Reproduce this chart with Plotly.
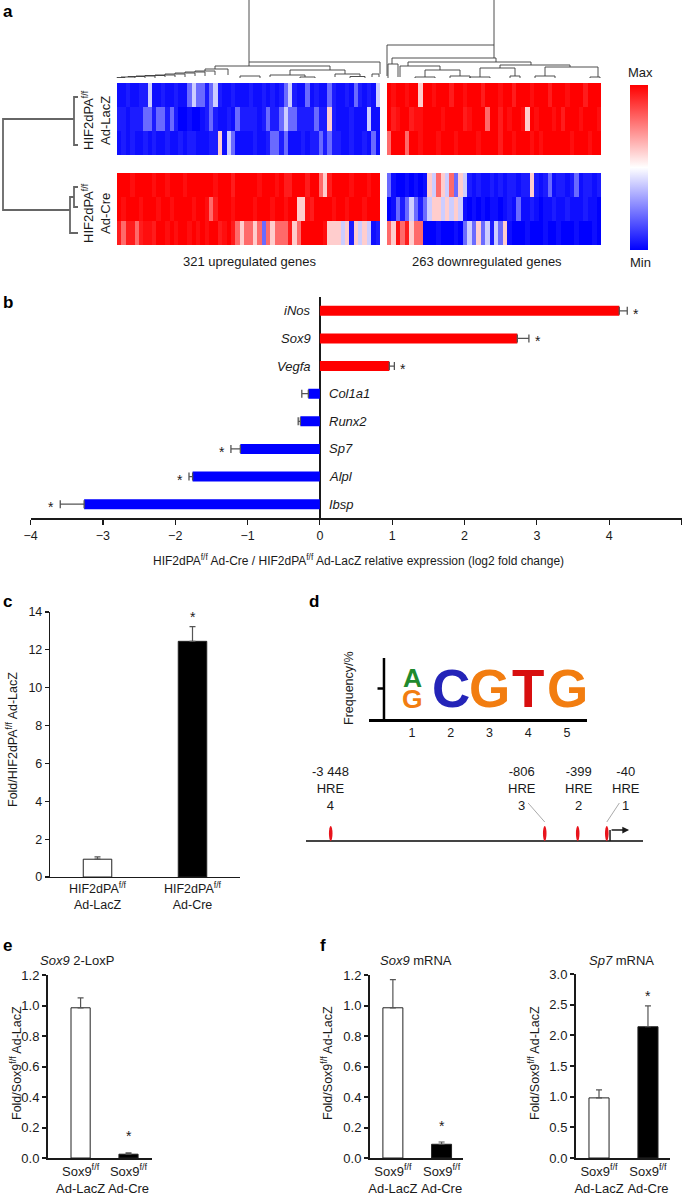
import plotly.graph_objects as go

W, H = 685, 1194
FONT = "Liberation Sans, Arial, Helvetica, sans-serif"
INK = "#1a1a1a"


def X(px):
    return px / W


def Y(py):
    return 1 - py / H


# ---------------- panel a : heatmap values (digit 0 = Min / blue ... 9 = Max / red)
up_genes_lacz = [
    "1121122411 2112113433 2342112111 2112121234 2113121132 1121321214",
    "2212223323 3232001001 2321121322 2212322343 3222232252 1112111411",
    "1212112121 1211212211 1225143111 1211233231 1121223232 2112112131",
]
up_genes_cre = [
    "9998999989 9899989999 9989997999 9989998977 9997996579 9998999899",
    "9899989998 9989999899 8679998999 9899989989 9558799998 9989998999",
    "7677678879 9898998989 8997897656 6563656667 5699999855 5452545412",
]
down_genes_lacz = [
    "9899899599 8999799899 9799989979 9989997999 89997999",
    "9789978899 9989999789 9969979899 8598999897 99989998",
    "6999699899 9899989999 8999979989 9989899999 98999899",
]
down_genes_cre = [
    "3100101015 4654635421 2112121221 2252123122 12312212",
    "0132343234 5545454101 0101101213 1121011211 21112110",
    "6586756600 0100010343 5342435100 0100010010 00100010",
]
heat_labels = ["321 upregulated genes", "263 downregulated genes"]

# column dendrogram links (left child x, y, right child x, y, merge y)  [sketch units]
col_links = [
    (249, 62, 494, 45, -60),
    (249, 66, 380, 74, 62), (215, 69, 330, 70, 66),
    (117, 78, 125, 78, 77.5), (121, 77.5, 135, 78, 77), (128, 77, 145, 78, 76.5),
    (136, 76.5, 155, 78, 76), (145, 76, 165, 77, 75.5), (155, 75.5, 175, 77, 75),
    (165, 75, 185, 77, 74), (175, 74, 195, 76, 73), (185, 73, 205, 76, 72),
    (195, 72, 215, 75, 71), (205, 71, 228, 75, 69),
    (290, 75, 345, 74, 70), (270, 77, 305, 77, 75), (335, 77, 360, 76, 74),
    (372, 77, 379, 77, 74), (240, 78, 260, 78, 76), (300, 78, 315, 78, 77),
    (350, 78, 365, 78, 76.5),
    (387, 76, 494, 58, 45), (392, 64, 496, 62, 58), (388, 78, 398, 77, 64),
    (408, 66, 531, 65, 62), (400, 77, 440, 70, 66), (425, 77, 460, 76, 70),
    (500, 68, 570, 67, 65), (480, 77, 515, 76, 68), (545, 76, 598, 77, 67),
    (535, 78, 555, 78, 76), (590, 78, 600, 78, 77), (470, 78, 490, 78, 77),
    (510, 78, 520, 78, 76), (415, 78, 435, 78, 77), (450, 78, 470, 78, 76),
]
# row dendrogram links (upper child y, x, lower child y, x, merge x)
row_links = [
    (97, 78, 145, 78, 74),
    (187, 78, 207, 78, 74),
    (197, 74, 233, 78, 70),
    (119, 74, 210, 70, 3),
]
row_groups = ["HIF2dPA<sup>f/f</sup><br>Ad-LacZ", "HIF2dPA<sup>f/f</sup><br>Ad-Cre"]

# ---------------- panel b
genes_b = ["iNos", "Sox9", "Vegfa", "Col1a1", "Runx2", "Sp7", "Alpl", "Ibsp"]
log2fc_b = [4.14, 2.73, 0.96, -0.16, -0.27, -1.10, -1.76, -3.26]
sem_b = [0.11, 0.16, 0.07, 0.09, 0.03, 0.13, 0.05, 0.33]
sig_b = [True, True, True, False, False, True, True, True]
xticks_b = [-4, -3, -2, -1, 0, 1, 2, 3, 4, 5]
xtitle_b = ("HIF2dPA<sup>f/f</sup> Ad-Cre / HIF2dPA<sup>f/f</sup> Ad-LacZ "
            "relative expression (log2 fold change)")

# ---------------- panel c
groups_c = ["HIF2dPA<sup>f/f</sup><br>Ad-LacZ", "HIF2dPA<sup>f/f</sup><br>Ad-Cre"]
fold_c = [0.94, 12.45]
sem_c = [0.12, 0.78]
sig_c = [False, True]

# ---------------- panel d
logo_pos = [1, 1, 2, 3, 4, 5]
logo_letter = ["G", "A", "C", "G", "T", "G"]
logo_freq = [0.5, 0.5, 1.0, 1.0, 1.0, 1.0]
letter_color = {"A": "#1f8a2e", "C": "#2424b8", "G": "#f27d10", "T": "#d80f0f"}
hre_pos = [-3448, -806, -399, -40]
hre_text = ["-3 448", "-806", "-399", "-40"]
hre_num = [4, 3, 2, 1]
hre_label_offset = [0, -285, 10, 235]

# ---------------- panels e, f
groups_sox = ["Sox9<sup>f/f</sup><br>Ad-LacZ", "Sox9<sup>f/f</sup><br>Ad-Cre"]
loxp_e = [0.985, 0.025]
sem_e = [0.065, 0.008]
sox9_f = [0.985, 0.09]
sem_f1 = [0.185, 0.015]
sp7_f = [0.98, 2.14]
sem_f2 = [0.13, 0.34]
sig_ef = [False, True]

fig = go.Figure()
ann = []
shapes = []


def note(**kw):
    kw.setdefault("showarrow", False)
    kw.setdefault("xanchor", "center")
    kw.setdefault("yanchor", "middle")
    ann.append(kw)


def parse(rows):
    rows = [[int(c) for c in r.replace(" ", "")] for r in rows]
    n = min(len(r) for r in rows)
    return [r[:n] for r in rows]


HEAT_CS = [[0, "#0000ff"], [0.25, "#2020ff"], [0.5, "#ffffff"], [0.75, "#ff2020"], [1, "#ff0000"]]
LIN_CS = [[0, "#0000ff"], [0.5, "#ffffff"], [1, "#ff0000"]]

blocks = [
    (up_genes_lacz, "x6", "y6"), (up_genes_cre, "x6", "y7"),
    (down_genes_lacz, "x7", "y6"), (down_genes_cre, "x7", "y7"),
]
ncols = {}
for rows, xa, ya in blocks:
    z = parse(rows)
    ncols[xa] = len(z[0])
    fig.add_trace(go.Heatmap(z=z, xaxis=xa, yaxis=ya, colorscale=HEAT_CS, zmin=0, zmax=9,
                             showscale=False, hoverinfo="skip"))

# colour bar (linear min-max gradient)
fig.add_trace(go.Scatter(
    x=[-50, -50], y=[-50, -50], xaxis="x8", yaxis="y8", mode="markers",
    marker=dict(color=[0, 9], colorscale=LIN_CS, cmin=0, cmax=9, showscale=True,
                colorbar=dict(thickness=18, thicknessmode="pixels", len=165, lenmode="pixels",
                              x=X(630), xanchor="left", y=Y(167.5), yanchor="middle",
                              showticklabels=False, ticks="", outlinewidth=0, xpad=0, ypad=0)),
    hoverinfo="skip", showlegend=False))

# dendrograms
dx, dy = [], []
for xa, ya, xb, yb, ym in col_links:
    dx += [xa, xa, xb, xb, None]
    dy += [ya, ym, ym, yb, None]
fig.add_trace(go.Scatter(x=dx, y=dy, xaxis="x8", yaxis="y8", mode="lines",
                         line=dict(color="#3a3a3a", width=0.9), hoverinfo="skip", showlegend=False))
rx, ry = [], []
for ya, xa, yb, xb, xm in row_links:
    rx += [xa, xm, xm, xb, None]
    ry += [ya, ya, yb, yb, None]
fig.add_trace(go.Scatter(x=rx, y=ry, xaxis="x8", yaxis="y8", mode="lines",
                         line=dict(color="#666666", width=1.8), hoverinfo="skip", showlegend=False))

for txt, cy in zip(row_groups, [120, 213]):
    note(x=X(97), y=Y(cy), xref="paper", yref="paper", text=txt, textangle=-90,
         font=dict(size=13, color=INK))
for txt, cx in zip(heat_labels, [250, 487]):
    note(x=X(cx), y=Y(261), xref="paper", yref="paper", text=txt, font=dict(size=13, color=INK))
note(x=X(640), y=Y(73), xref="paper", yref="paper", text="Max", font=dict(size=13, color=INK))
note(x=X(640), y=Y(262), xref="paper", yref="paper", text="Min", font=dict(size=13, color=INK))

# ---------------- panel b traces
sign_b = [1 if v > 0 else -1 for v in log2fc_b]
fig.add_trace(go.Bar(
    x=log2fc_b, y=genes_b, orientation="h", width=0.36, xaxis="x", yaxis="y",
    marker=dict(color=["#ff0000" if s > 0 else "#0000ff" for s in sign_b], line=dict(width=0)),
    error_x=dict(type="data", symmetric=False,
                 array=[e if s > 0 else 0 for e, s in zip(sem_b, sign_b)],
                 arrayminus=[e if s < 0 else 0 for e, s in zip(sem_b, sign_b)],
                 color="#555555", thickness=1.3, width=4),
    hoverinfo="skip", showlegend=False))
for g, v, e, s, sg in zip(genes_b, log2fc_b, sem_b, sign_b, sig_b):
    note(x=0, y=g, xref="x", yref="y", text="<i>%s</i>" % g,
         xanchor="right" if s > 0 else "left", xshift=-7 * s, font=dict(size=13, color=INK))
    if sg:
        note(x=v + s * e, y=g, xref="x", yref="y", text="*", xshift=9 * s, yshift=-3,
             font=dict(size=14, color=INK))
note(x=X(358), y=Y(560), xref="paper", yref="paper", text=xtitle_b, font=dict(size=12, color=INK))


# ---------------- bar panels c, e, f
def bar_panel(n, vals, sems, sigs, width, star_px):
    xa, ya = "x%d" % n, "y%d" % n
    fig.add_trace(go.Bar(
        x=[0, 1], y=vals, width=width, xaxis=xa, yaxis=ya,
        marker=dict(color=["white", "black"], line=dict(color="#222222", width=1)),
        error_y=dict(type="data", symmetric=False, array=sems, arrayminus=[0] * len(sems),
                     color="#555555", thickness=1.2, width=3),
        hoverinfo="skip", showlegend=False))
    for i, (v, e, sg) in enumerate(zip(vals, sems, sigs)):
        if sg:
            note(x=i, y=v + e, xref=xa, yref=ya, text="*", yshift=star_px,
                 font=dict(size=14, color=INK))


bar_panel(2, fold_c, sem_c, sig_c, 0.3, 10)
bar_panel(3, loxp_e, sem_e, sig_ef, 0.4, 17)
bar_panel(4, sox9_f, sem_f1, sig_ef, 0.41, 16)
bar_panel(5, sp7_f, sem_f2, sig_ef, 0.41, 10)

ytitles = [
    ("Fold/HIF2dPA<sup>f/f</sup> Ad-LacZ", 12, 740),
    ("Fold/Sox9<sup>f/f</sup> Ad-LacZ", 16, 1063),
    ("Fold/Sox9<sup>f/f</sup> Ad-LacZ", 327, 1063),
    ("Fold/Sox9<sup>f/f</sup> Ad-LacZ", 534, 1063),
]
for txt, cx, cy in ytitles:
    note(x=X(cx), y=Y(cy), xref="paper", yref="paper", text=txt, textangle=-90,
         font=dict(size=12.5, color=INK))
ptitles = [("<i>Sox9</i> 2-LoxP", 77), ("<i>Sox9</i> mRNA", 416), ("<i>Sp7</i> mRNA", 621)]
for txt, cx in ptitles:
    note(x=X(cx), y=Y(960), xref="paper", yref="paper", text=txt, font=dict(size=13, color=INK))

# ---------------- panel d : logo
stack = {}
for p, L, f in zip(logo_pos, logo_letter, logo_freq):
    base = stack.get(p, 0.0)
    note(x=p, y=base + f / 2, xref="x12", yref="y12", text="<b>%s</b>" % L,
         font=dict(size=53 * f, color=letter_color[L], family=FONT))
    stack[p] = base + f
shapes.append(dict(type="line", xref="x12", yref="y12", x0=0.277, x1=0.277, y0=-0.463, y1=1.244,
                   line=dict(color="black", width=2.5)))
shapes.append(dict(type="line", xref="x12", yref="y12", x0=0.11, x1=0.277, y0=0.5, y1=0.5,
                   line=dict(color="black", width=2.5)))
note(x=X(349), y=Y(688), xref="paper", yref="paper", text="Frequency/%", textangle=-90,
     font=dict(size=12.5, color=INK))

# promoter map
shapes.append(dict(type="line", xref="x11", yref="y11", x0=-3753, x1=407, y0=19, y1=19,
                   line=dict(color="#444444", width=1.8)))
for p, t, nm, off in zip(hre_pos, hre_text, hre_num, hre_label_offset):
    shapes.append(dict(type="circle", xref="x11", yref="y11", x0=p - 22, x1=p + 22, y0=19, y1=34,
                       fillcolor="#e8141c", line=dict(width=0)))
    lx = p + off
    note(x=lx, y=45, xref="x11", yref="y11", text="%s<br>HRE<br>%d" % (t, nm),
         yanchor="bottom", font=dict(size=13, color=INK))
    if abs(off) > 100:
        sx = lx + (80 if p > lx else -80)
        shapes.append(dict(type="line", xref="x11", yref="y11", x0=sx, x1=p, y0=57, y1=38,
                           line=dict(color="#aaaaaa", width=1)))
shapes.append(dict(type="line", xref="x11", yref="y11", x0=0, x1=0, y0=19, y1=30,
                   line=dict(color=INK, width=1.5)))
ann.append(dict(x=235, y=30, xref="x11", yref="y11", ax=-19, ay=0, axref="pixel", ayref="pixel",
                text="", showarrow=True, arrowhead=2, arrowsize=0.9, arrowwidth=1.5,
                arrowcolor=INK))

# panel letters
for L, cx, cy in [("a", 1, 11), ("b", 1, 302), ("c", 1, 601), ("d", 307, 601),
                  ("e", 1, 945), ("f", 318, 945)]:
    note(x=X(cx), y=Y(cy), xref="paper", yref="paper", text="<b>%s</b>" % L,
         xanchor="left", font=dict(size=17, color="black"))

hidden = dict(visible=False, showgrid=False, zeroline=False)
ax_y_common = dict(ticks="outside", ticklen=4, tickcolor=INK, showline=True, linecolor=INK,
                   showgrid=False, zeroline=False, tickfont=dict(size=13, color=INK))
ax_x_common = dict(ticks="", showline=True, linecolor=INK, showgrid=False, zeroline=False,
                   tickvals=[0, 1], tickfont=dict(size=13, color=INK))

fig.update_layout(
    template="none",
    width=W, height=H, autosize=False, margin=dict(l=0, r=0, t=0, b=0, pad=0),
    paper_bgcolor="white", plot_bgcolor="rgba(0,0,0,0)", showlegend=False, hovermode=False,
    font=dict(family=FONT, color=INK),
    # panel b
    xaxis=dict(domain=[X(30.6), X(681.5)], range=[-4, 5], tickvals=xticks_b, ticks="outside",
               ticklen=5, tickwidth=1.2, tickcolor=INK, showline=True, linecolor=INK,
               linewidth=1.5, zeroline=True, zerolinecolor=INK, zerolinewidth=1.5,
               showgrid=False, tickfont=dict(size=12.5, color=INK), anchor="y"),
    yaxis=dict(domain=[Y(518), Y(297)], type="category", categoryarray=genes_b,
               autorange="reversed", anchor="x", **hidden),
    # panel c
    xaxis2=dict(domain=[X(50), X(240)], range=[-0.5, 1.5], ticktext=groups_c, linewidth=1.2,
                anchor="y2", **{**ax_x_common, "tickfont": dict(size=12.5, color=INK)}),
    yaxis2=dict(domain=[Y(877), Y(612)], range=[0, 14], dtick=2, linewidth=1.2, tickwidth=1.2,
                anchor="x2", **{**ax_y_common, "tickfont": dict(size=12.5, color=INK)}),
    # panel e
    xaxis3=dict(domain=[X(48), X(152)], range=[-0.68, 1.49], ticktext=groups_sox, linewidth=2,
                anchor="y3", **ax_x_common),
    yaxis3=dict(domain=[Y(1158), Y(975)], range=[0, 1.2], dtick=0.2, tickformat=".1f",
                linewidth=2, tickwidth=2, anchor="x3", **ax_y_common),
    # panel f
    xaxis4=dict(domain=[X(370), X(463)], range=[-0.47, 1.44], ticktext=groups_sox, linewidth=2,
                anchor="y4", **ax_x_common),
    yaxis4=dict(domain=[Y(1158), Y(975)], range=[0, 1.2], dtick=0.2, tickformat=".1f",
                linewidth=2, tickwidth=2, anchor="x4", **ax_y_common),
    xaxis5=dict(domain=[X(576), X(670)], range=[-0.47, 1.45], ticktext=groups_sox, linewidth=2,
                anchor="y5", **ax_x_common),
    yaxis5=dict(domain=[Y(1158), Y(974)], range=[0, 3], dtick=0.5, tickformat=".1f",
                linewidth=2, tickwidth=2, anchor="x5", **ax_y_common),
    # heatmap
    xaxis6=dict(domain=[X(117), X(380)], range=[-0.5, ncols["x6"] - 0.5], anchor="y6", **hidden),
    xaxis7=dict(domain=[X(387), X(601)], range=[-0.5, ncols["x7"] - 0.5], anchor="y6", **hidden),
    yaxis6=dict(domain=[Y(155), Y(83)], range=[2.5, -0.5], anchor="x6", **hidden),
    yaxis7=dict(domain=[Y(245), Y(173)], range=[2.5, -0.5], anchor="x6", **hidden),
    # sketch canvas for dendrograms
    xaxis8=dict(domain=[0, 1], range=[0, W], anchor="y8", **hidden),
    yaxis8=dict(domain=[0, 1], range=[H, 0], anchor="x8", **hidden),
    # promoter
    xaxis11=dict(domain=[X(306), X(643)], range=[-3753, 407], anchor="y11", **hidden),
    yaxis11=dict(domain=[Y(860), Y(760)], range=[0, 100], anchor="x11", **hidden),
    # logo
    xaxis12=dict(domain=[X(369), X(587)], range=[-0.1097, 5.516], tickvals=[1, 2, 3, 4, 5],
                 showline=True, linecolor="black", linewidth=2.5, ticks="", showgrid=False,
                 zeroline=False, tickfont=dict(size=12.5, color=INK), anchor="y12"),
    yaxis12=dict(domain=[Y(719), Y(658)], range=[-0.244, 1.244], anchor="x12", **hidden),
    annotations=ann,
    shapes=shapes,
)
fig.update_xaxes(automargin=False)
fig.update_yaxes(automargin=False)

fig.write_html("out.html", config={"displayModeBar": False, "staticPlot": True},
               post_script="document.body.style.margin='0px';")
